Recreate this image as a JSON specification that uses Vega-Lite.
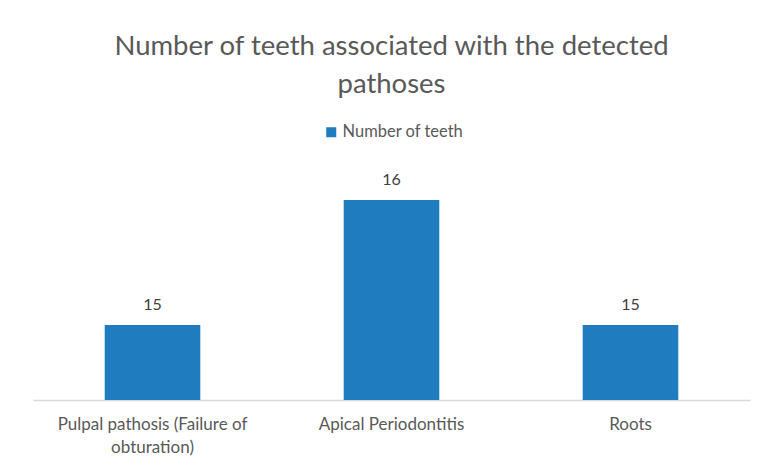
{
  "$schema": "https://vega.github.io/schema/vega-lite/v6.json",
  "autosize": "none",
  "width": 717,
  "height": 250,
  "padding": {"left": 33, "top": 150, "right": 10, "bottom": 65},
  "background": "white",
  "config": {"view": {"stroke": null}, "font": "Lato"},
  "title": {
    "text": ["Number of teeth associated with the detected", "pathoses"],
    "anchor": "middle",
    "frame": "group",
    "fontSize": 27.5,
    "fontWeight": "normal",
    "color": "#595959",
    "lineHeight": 38,
    "offset": 26
  },
  "data": {
    "values": [
      {"category": "Pulpal pathosis (Failure of obturation)", "teeth": 15, "series": "Number of teeth"},
      {"category": "Apical Periodontitis", "teeth": 16, "series": "Number of teeth"},
      {"category": "Roots", "teeth": 15, "series": "Number of teeth"}
    ]
  },
  "encoding": {
    "x": {
      "field": "category",
      "type": "nominal",
      "sort": null,
      "scale": {"paddingInner": 0.6, "paddingOuter": 0.3},
      "axis": {
        "title": null,
        "labelAngle": 0,
        "ticks": false,
        "domainColor": "#d9d9d9",
        "domainWidth": 1.5,
        "labelColor": "#595959",
        "labelFontSize": 17,
        "labelPadding": 16,
        "labelLineHeight": 23,
        "labelLimit": 300,
        "labelExpr": "datum.label == 'Pulpal pathosis (Failure of obturation)' ? ['Pulpal pathosis (Failure of', 'obturation)'] : datum.label"
      }
    },
    "y": {
      "field": "teeth",
      "type": "quantitative",
      "scale": {"domain": [14.4, 16.4], "zero": false, "nice": false},
      "axis": null
    }
  },
  "layer": [
    {
      "mark": {"type": "bar", "clip": true},
      "encoding": {
        "color": {
          "field": "series",
          "type": "nominal",
          "scale": {"range": ["#1f7dbf"]},
          "legend": {
            "title": null,
            "orient": "none",
            "legendX": 290,
            "legendY": -26,
            "symbolType": "square",
            "symbolSize": 100,
            "labelFontSize": 16.5,
            "labelColor": "#595959",
            "labelOffset": 3
          }
        }
      }
    },
    {
      "mark": {"type": "text", "dy": -20, "fontSize": 16, "color": "#404040"},
      "encoding": {"text": {"field": "teeth", "type": "quantitative"}}
    }
  ]
}
